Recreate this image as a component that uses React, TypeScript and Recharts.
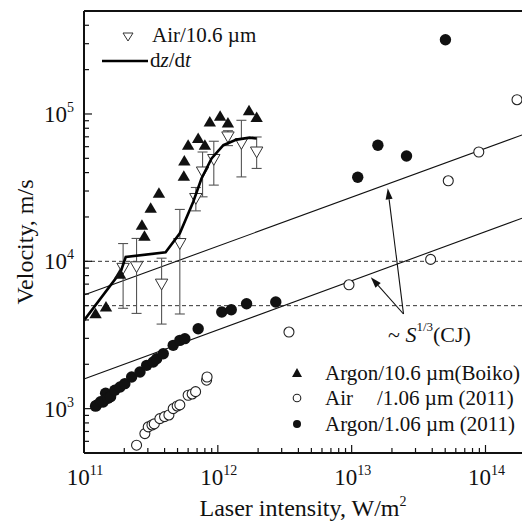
import React from "react";
import { ErrorBar, ReferenceLine, Scatter, ScatterChart, XAxis, YAxis } from "recharts";

const FONT = "'Liberation Serif', 'Times New Roman', serif";
const INK = "#111";

// [intensity W/m², velocity m/s]
const argonBoiko: [number, number][] = [
  [1.22e11, 4410], [1.46e11, 4890], [1.86e11, 8180], [2.71e11, 17600], [2.83e11, 14800],
  [3.15e11, 22900], [3.63e11, 29000], [5.57e11, 37800], [5.62e11, 48000], [6.0e11, 61400],
  [7.13e11, 68100], [8.0e11, 61400], [8.71e11, 88300], [1.04e12, 96400], [1.19e12, 86900],
  [1.71e12, 105000], [1.95e12, 94600],
];

// [intensity, velocity, low, high]
const air106: [number, number, number, number][] = [
  [1.96e11, 8960, 4800, 13200],
  [2.47e11, 9180, 4430, 14300],
  [3.8e11, 7000, 3750, 10500],
  [5.2e11, 13200, 4390, 22500],
  [6.85e11, 26700, 22000, 31700],
  [7.69e11, 40400, 27400, 55200],
  [9.33e11, 49100, 32900, 65300],
  [1.19e12, 69900, 61000, 77000],
  [1.5e12, 63000, 37400, 90600],
  [1.95e12, 55200, 42700, 69800],
];

const air1064: [number, number][] = [
  [2.47e11, 565], [2.85e11, 677], [3.02e11, 752], [3.22e11, 775], [3.35e11, 788],
  [3.69e11, 855], [4.0e11, 883], [4.31e11, 906], [4.64e11, 1000], [4.97e11, 1043],
  [5.2e11, 1060], [6.0e11, 1233], [6.43e11, 1258], [6.82e11, 1304], [8.24e11, 1560],
  [8.31e11, 1640], [3.4e12, 3311], [9.55e12, 6930], [3.89e13, 10300], [5.27e13, 35200],
  [8.91e13, 55200], [1.72e14, 125000],
];

const argon1064: [number, number][] = [
  [1.22e11, 1040], [1.24e11, 1054], [1.33e11, 1115], [1.39e11, 1110], [1.45e11, 1272],
  [1.51e11, 1176], [1.58e11, 1206], [1.7e11, 1333], [1.86e11, 1403], [2.02e11, 1478],
  [2.27e11, 1640], [2.62e11, 1774], [2.94e11, 1968], [3.29e11, 2073], [3.49e11, 2183],
  [3.91e11, 2360], [4.64e11, 2690], [5.2e11, 2908], [5.67e11, 2985], [7.13e11, 3487],
  [1.07e12, 4525], [1.26e12, 4690], [1.64e12, 5150], [2.71e12, 5290], [1.11e13, 37200],
  [1.57e13, 61400], [2.57e13, 51900], [5.02e13, 319000],
];

const dzdt: [number, number][] = [
  [1e11, 3970], [1.88e11, 8490], [2.05e11, 10700], [4.07e11, 11500], [5.2e11, 15500],
  [6.54e11, 25300], [7.55e11, 36500], [8.98e11, 49900], [1.1e12, 61400], [1.38e12, 67000],
  [1.73e12, 69100], [1.95e12, 68100],
];

const cjUpper: [number, number][] = [[1e11, 5900], [1.874e14, 72000]];
const cjLower: [number, number][] = [[1e11, 1590], [1.874e14, 19600]];
const dashedLevels = [10000, 5000];
const arrowFrom: [number, number] = [2.44e13, 4390];
const arrowTips: [number, number][] = [[1.86e13, 31300], [1.39e13, 7810]];

const X_DOMAIN: [number, number] = [1e11, 1.874e14];
const Y_DOMAIN: [number, number] = [500, 500000];

const xTicks: number[] = [];
for (let e = 11; e <= 14; e++) for (let m = 1; m <= 9; m++) if (m * 10 ** e <= X_DOMAIN[1]) xTicks.push(m * 10 ** e);
const yTicks: number[] = [];
for (let e = 2; e <= 5; e++) for (let m = 1; m <= 9; m++) {
  const v = m * 10 ** e;
  if (v > Y_DOMAIN[0] && v < Y_DOMAIN[1]) yTicks.push(v);
}

const toPts = (arr: [number, number][]) => arr.map(([x, y]) => ({ x, y }));
const airErrPts = air106.map(([x, y, lo, hi]) => ({ x, y, err: [y - lo, hi - y] }));

const isMajor = (v: number) => Math.abs(Math.log10(v) - Math.round(Math.log10(v))) < 1e-6;

function XTick({ x, y, payload }: any) {
  const v = payload.value;
  const major = isMajor(v);
  return (
    <g>
      <line x1={x} x2={x} y1={y} y2={y - (major ? 8 : 5)} stroke={INK} strokeWidth={1.2} />
      {major && (
        <text x={x + 1} y={y + 32} textAnchor="middle" fontSize={23} fontFamily={FONT} fill={INK}>
          10<tspan dy={-10} fontSize={14}>{Math.round(Math.log10(v))}</tspan>
        </text>
      )}
    </g>
  );
}

function YTick({ x, y, payload }: any) {
  const v = payload.value;
  const major = isMajor(v);
  return (
    <g>
      <line x1={x} x2={x + (major ? 8 : 5)} y1={y} y2={y} stroke={INK} strokeWidth={1.2} />
      {major && (
        <text x={x - 10} y={y + 8} textAnchor="end" fontSize={23} fontFamily={FONT} fill={INK}>
          10<tspan dy={-10} fontSize={14}>{Math.round(Math.log10(v))}</tspan>
        </text>
      )}
    </g>
  );
}

const triUp = ({ cx, cy }: any) => (
  <polygon points={`${cx},${cy - 6} ${cx - 6.2},${cy + 4.5} ${cx + 6.2},${cy + 4.5}`} fill={INK} />
);
const triDown = ({ cx, cy }: any) => (
  <polygon
    points={`${cx - 6.2},${cy - 5} ${cx + 6.2},${cy - 5} ${cx},${cy + 5.8}`}
    fill="#fff"
    stroke="#333"
    strokeWidth={1}
  />
);
const dotFilled = ({ cx, cy }: any) => <circle cx={cx} cy={cy} r={5.7} fill={INK} />;
const dotOpen = ({ cx, cy }: any) => (
  <circle cx={cx} cy={cy} r={5} fill="#fff" stroke="#222" strokeWidth={1.1} />
);
const noDot = () => <g />;

function Arrow({ x1, y1, x2, y2 }: any) {
  const dx = x2 - x1;
  const dy = y2 - y1;
  const len = Math.hypot(dx, dy) || 1;
  const ux = dx / len;
  const uy = dy / len;
  const L = 11;
  const W = 3.5;
  const bx = x2 - ux * L;
  const by = y2 - uy * L;
  return (
    <g>
      <line x1={x1} y1={y1} x2={bx} y2={by} stroke={INK} strokeWidth={1.1} />
      <polygon points={`${x2},${y2} ${bx - uy * W},${by + ux * W} ${bx + uy * W},${by - ux * W}`} fill={INK} />
    </g>
  );
}

export default function App() {
  return (
    <div style={{ position: "absolute", left: 0, top: 0, width: 522, height: 524, background: "#fff" }}>
      <ScatterChart width={522} height={524} margin={{ top: 11, right: 0, bottom: 0, left: 0 }}>
        <XAxis
          type="number"
          dataKey="x"
          scale="log"
          domain={X_DOMAIN}
          allowDataOverflow
          ticks={xTicks}
          interval={0}
          tick={<XTick />}
          tickLine={false}
          tickSize={0}
          tickMargin={0}
          height={71}
          axisLine={{ stroke: INK, strokeWidth: 2 }}
        />
        <YAxis
          type="number"
          dataKey="y"
          scale="log"
          domain={Y_DOMAIN}
          allowDataOverflow
          ticks={yTicks}
          interval={0}
          tick={<YTick />}
          tickLine={false}
          tickSize={0}
          tickMargin={0}
          width={84}
          axisLine={{ stroke: INK, strokeWidth: 2 }}
        />
        <ReferenceLine y={Y_DOMAIN[1]} stroke={INK} strokeWidth={2} ifOverflow="visible" />
        {dashedLevels.map((v) => (
          <ReferenceLine key={v} y={v} stroke="#333" strokeWidth={1} strokeDasharray="4 3" />
        ))}
        <ReferenceLine
          segment={cjUpper.map(([x, y]) => ({ x, y }))}
          stroke={INK}
          strokeWidth={1.1}
          ifOverflow="visible"
        />
        <ReferenceLine
          segment={cjLower.map(([x, y]) => ({ x, y }))}
          stroke={INK}
          strokeWidth={1.1}
          ifOverflow="visible"
        />
        {arrowTips.map((t, i) => (
          <ReferenceLine
            key={i}
            segment={[
              { x: arrowFrom[0], y: arrowFrom[1] },
              { x: t[0], y: t[1] },
            ]}
            ifOverflow="visible"
            shape={<Arrow />}
          />
        ))}
        <Scatter data={airErrPts} shape={triDown} isAnimationActive={false}>
          <ErrorBar dataKey="err" direction="y" width={5} stroke="#555" strokeWidth={1.1} />
        </Scatter>
        <Scatter
          data={toPts(dzdt)}
          shape={noDot}
          line={{ stroke: "#000", strokeWidth: 2.6 }}
          isAnimationActive={false}
        />
        <Scatter data={toPts(argonBoiko)} shape={triUp} isAnimationActive={false} />
        <Scatter data={toPts(air1064)} shape={dotOpen} isAnimationActive={false} />
        <Scatter data={toPts(argon1064)} shape={dotFilled} isAnimationActive={false} />
      </ScatterChart>

      <svg
        width={522}
        height={524}
        style={{ position: "absolute", left: 0, top: 0, pointerEvents: "none" }}
        fontFamily={FONT}
        fill={INK}
      >
        {/* top-left legend */}
        <polygon points="123,33 133,33 128,41" fill="#fff" stroke="#333" strokeWidth={1} />
        <text x={152} y={42} fontSize={21}>Air/10.6 µm</text>
        <line x1={102} y1={61} x2={148} y2={61} stroke="#000" strokeWidth={2.6} />
        <text x={150} y={67} fontSize={21}>
          d<tspan fontStyle="italic">z</tspan>/d<tspan fontStyle="italic">t</tspan>
        </text>

        {/* CJ annotation */}
        <text x={388} y={342} fontSize={22}>
          ~ <tspan fontStyle="italic">S</tspan>
          <tspan dy={-11} fontSize={13}>1/3</tspan>
          <tspan dy={11}>(CJ)</tspan>
        </text>

        {/* bottom-right legend */}
        <polygon points="297,368 292,377 302,377" fill={INK} />
        <text x={325} y={380} fontSize={21}>Argon/10.6 µm(Boiko)</text>
        <circle cx={297} cy={398} r={3.8} fill="#fff" stroke="#222" strokeWidth={1.1} />
        <text x={325} y={405} fontSize={21}>Air</text>
        <text x={377} y={405} fontSize={21}>/1.06 µm (2011)</text>
        <circle cx={297} cy={424} r={4} fill={INK} />
        <text x={325} y={431} fontSize={21}>Argon/1.06 µm (2011)</text>

        {/* axis titles */}
        <text x={303} y={516} fontSize={24} textAnchor="middle">
          Laser intensity, W/m<tspan dy={-10} fontSize={14}>2</tspan>
        </text>
        <text transform="rotate(-90)" x={-242} y={33} fontSize={24} textAnchor="middle">
          Velocity, m/s
        </text>
      </svg>
    </div>
  );
}
